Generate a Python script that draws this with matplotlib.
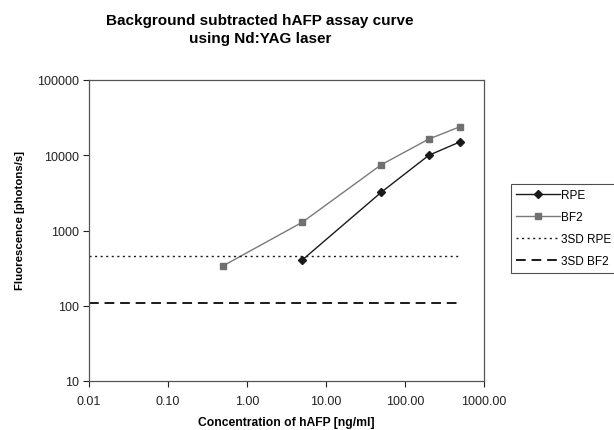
import matplotlib
matplotlib.use("Agg")
import matplotlib.pyplot as plt
from matplotlib.ticker import FixedLocator, FixedFormatter, NullLocator

plt.rcParams['font.family'] = ['Liberation Sans', 'DejaVu Sans']

rpe_x = [5, 50, 200, 500]
rpe_y = [405, 3220, 9980, 15100]
bf2_x = [0.5, 5, 50, 200, 500]
bf2_y = [340, 1285, 7480, 16400, 24000]
sd_x = [0.01, 500]
sd_rpe = 454
sd_bf2 = 110

x_ticks = [0.01, 0.1, 1, 10, 100, 1000]
x_labels = ["0.01", "0.10", "1.00", "10.00", "100.00", "1000.00"]
y_ticks = [10, 100, 1000, 10000, 100000]
y_labels = ["10", "100", "1000", "10000", "100000"]

W, H = 614, 431
fig = plt.figure(figsize=(W/100, H/100), dpi=100)
ax = fig.add_axes([89/W, 1-382/H, (484-89)/W, (382-81)/H])

ax.plot(rpe_x, rpe_y, color='#1a1a1a', lw=1.0, marker='D', ms=4.5, mfc='#1a1a1a', mec='#1a1a1a', label='RPE')
ax.plot(bf2_x, bf2_y, color='#7a7a7a', lw=1.0, marker='s', ms=5, mfc='#707070', mec='#707070', label='BF2')
ax.plot(sd_x, [sd_rpe]*2, color='#1a1a1a', lw=1.0, ls=(0, (1.5, 2.5)), label='3SD RPE')
ax.plot(sd_x, [sd_bf2]*2, color='#1a1a1a', lw=1.4, ls=(0, (5, 3)), label='3SD BF2')

ax.set_xscale('log')
ax.set_yscale('log')
ax.set_xlim(0.01, 1000)
ax.set_ylim(10, 100000)
ax.xaxis.set_major_locator(FixedLocator(x_ticks))
ax.xaxis.set_major_formatter(FixedFormatter(x_labels))
ax.yaxis.set_major_locator(FixedLocator(y_ticks))
ax.yaxis.set_major_formatter(FixedFormatter(y_labels))
ax.xaxis.set_minor_locator(NullLocator())
ax.yaxis.set_minor_locator(NullLocator())
ax.tick_params(axis='both', direction='out', length=4, width=0.8, labelsize=9, colors='#222222')
ax.tick_params(axis='x', pad=6)
for s in ax.spines.values():
    s.set_color('#555555')
    s.set_linewidth(0.9)

ax.set_xlabel('Concentration of hAFP [ng/ml]', fontsize=8.75, fontweight='bold')
ax.xaxis.set_label_coords(0.5, -(423-382)/(382-81), transform=ax.transAxes)
ax.xaxis.label.set_va('center')
ax.set_ylabel('Fluorescence [photons/s]', fontsize=8.2, fontweight='bold')
ax.yaxis.set_label_coords(20/W, 1-221/H, transform=fig.transFigure)
ax.yaxis.label.set_va('center')

fig.text(260/W, 1-30/H, 'Background subtracted hAFP assay curve\nusing Nd:YAG laser',
         ha='center', va='center', fontsize=11, fontweight='bold', linespacing=1.4)

leg = fig.legend(loc='upper left', bbox_to_anchor=(511/W, 1-185/H), fontsize=8.5,
                 frameon=True, fancybox=False, edgecolor='#222222', borderpad=0.45,
                 handlelength=3.7, handletextpad=0.05, labelspacing=0.85, borderaxespad=0,
                 markerscale=0.85)
leg.get_frame().set_linewidth(0.8)

fig.savefig('out.png', dpi=100)
